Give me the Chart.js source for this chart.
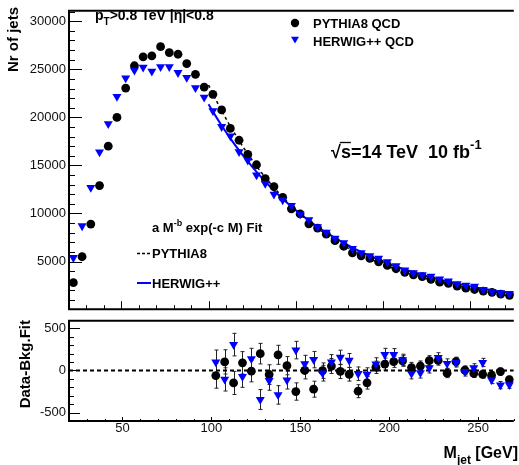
<!DOCTYPE html>
<html>
<head>
<meta charset="utf-8">
<script src="https://cdn.jsdelivr.net/npm/chart.js@4.4.1/dist/chart.umd.min.js"></script>
<style>
  html, body { margin: 0; padding: 0; background: #fff; }
  #wrap { position: relative; width: 519px; height: 465px; overflow: hidden; }
  #top { position: absolute; left: 0; top: 0; }
  #bot { position: absolute; left: 0; top: 310px; }
</style>
</head>
<body>
<div id="wrap">
  <canvas id="top" width="519" height="320"></canvas>
  <canvas id="bot" width="519" height="155"></canvas>
</div>
<script>
const FONT = '"Liberation Sans", Arial, Helvetica, sans-serif';
Chart.defaults.font.family = FONT;
Chart.defaults.font.size = 13;
Chart.defaults.color = '#111';

// jet mass bin centres (GeV)
const massBins = [22.5, 27.5, 32.5, 37.5, 42.5, 47.5, 52.5, 57.5, 62.5, 67.5,
  72.5, 77.5, 82.5, 87.5, 92.5, 97.5, 102.5, 107.5, 112.5, 117.5,
  122.5, 127.5, 132.5, 137.5, 142.5, 147.5, 152.5, 157.5, 162.5, 167.5,
  172.5, 177.5, 182.5, 187.5, 192.5, 197.5, 202.5, 207.5, 212.5, 217.5,
  222.5, 227.5, 232.5, 237.5, 242.5, 247.5, 252.5, 257.5, 262.5, 267.5, 272.5];

const pythiaCounts = [2800, 5500, 8900, 12900, 17000, 20000, 23050, 25370, 26300, 26400,
  27360, 26740, 26570, 25600, 24480, 23150, 22400, 20780, 18850, 17620,
  16150, 15070, 13620, 12800, 11680, 10480, 9950, 8920, 8480, 7850,
  7170, 6590, 5900, 5600, 5320, 4970, 4600, 4250, 3880, 3620,
  3430, 3150, 2850, 2720, 2450, 2230, 2090, 1930, 1800, 1600, 1480];

const herwigCounts = [5400, 8700, 12700, 16400, 19330, 22160, 24080, 24900, 25200, 24800,
  25270, 25270, 24650, 24150, 23080, 22090, 20680, 19030, 18060, 16420,
  15530, 14000, 13120, 11990, 11400, 10830, 9930, 9340, 8600, 8040,
  7420, 6940, 6350, 5900, 5600, 5340, 4960, 4560, 4100, 3830,
  3610, 3460, 3180, 2960, 2670, 2530, 2430, 2080, 1880, 1730, 1660];

// a M^-b exp(-c M) fit curves
const fitMass = [100, 102.5, 107.5, 112.5, 117.5, 122.5, 127.5, 132.5, 137.5, 142.5,
  147.5, 152.5, 157.5, 162.5, 167.5, 172.5, 177.5, 182.5, 187.5, 192.5,
  197.5, 202.5, 207.5, 212.5, 217.5, 222.5, 227.5, 232.5, 237.5, 242.5,
  247.5, 252.5, 257.5, 262.5, 267.5, 272.5, 275];
const pythiaFit = [23370, 22450, 20690, 19070, 17580, 16200, 14930, 13760, 12690, 11700,
  10790, 9950, 9180, 8470, 7810, 7200, 6650, 6150, 5690, 5270,
  4880, 4520, 4190, 3880, 3600, 3340, 3100, 2880, 2670, 2480,
  2300, 2140, 1990, 1850, 1720, 1600, 1545];
const herwigFit = [21360, 20600, 19160, 17820, 16570, 15410, 14330, 13330, 12400, 11530,
  10720, 9970, 9270, 8620, 8020, 7460, 6940, 6450, 6000, 5580,
  5190, 4830, 4490, 4170, 3880, 3610, 3360, 3120, 2900, 2700,
  2510, 2340, 2170, 2020, 1880, 1750, 1690];

// residuals (data - fit) in the fit window
const residMass = [102.5, 107.5, 112.5, 117.5, 122.5, 127.5, 132.5, 137.5, 142.5, 147.5,
  152.5, 157.5, 162.5, 167.5, 172.5, 177.5, 182.5, 187.5, 192.5, 197.5,
  202.5, 207.5, 212.5, 217.5, 222.5, 227.5, 232.5, 237.5, 242.5, 247.5,
  252.5, 257.5, 262.5, 267.5];
const pythiaResid = [-60, 102, -148, 91, -8, 200, -49, 186, 57, -250,
  0, -222, -2, 53, -11, -45, -246, -146, 38, 76,
  105, 115, 34, 53, 117, 119, -32, 106, 4, -36,
  -45, -57, -13, -108];
const pythiaErr = [150, 144, 137, 133, 127, 122, 117, 113, 108, 103,
  100, 95, 92, 89, 85, 81, 77, 75, 73, 71,
  68, 65, 62, 60, 59, 56, 53, 52, 50, 47,
  46, 44, 42, 40];
const herwigResid = [99, -106, 307, -72, 138, -345, -120, -290, -113, 242,
  80, 129, -32, 99, 155, 119, -38, -45, 76, 190,
  190, 125, -36, -28, 30, 152, 82, 95, -14, 30,
  95, -110, -174, -170];
const herwigErr = [144, 138, 134, 128, 125, 118, 115, 110, 107, 104,
  100, 97, 93, 90, 86, 83, 80, 77, 75, 73,
  70, 68, 64, 62, 60, 59, 56, 54, 52, 50,
  49, 46, 43, 42];

const xTicks = [50, 100, 150, 200, 250];
const yTopTicks = [5000, 10000, 15000, 20000, 25000, 30000];
const yBotTicks = [-500, 0, 500];
const xRangeTop = [20, 275];
const xRangeBot = [20, 270];
const zeroLevel = 0;

const pts = (xs, ys) => xs.map((x, i) => ({ x, y: ys[i] }));
const plain = v => String(v);

function rich(ctx, x, y, size, parts, measureOnly) {
  let cx = x;
  for (const [t, mode] of parts) {
    const s = mode ? Math.round(size * 0.72) : size;
    ctx.font = `bold ${s}px ${FONT}`;
    const dy = mode === 'sub' ? size * 0.38 : mode === 'sup' ? -size * 0.5 : 0;
    if (!measureOnly) ctx.fillText(t, cx, y + dy);
    cx += ctx.measureText(t).width;
  }
  return cx - x;
}

function triDown(ctx, x, y, r) {
  ctx.beginPath();
  ctx.moveTo(x, y + r);
  ctx.lineTo(x - r * 0.866, y - r / 2);
  ctx.lineTo(x + r * 0.866, y - r / 2);
  ctx.closePath();
  ctx.fill();
}

// ROOT-like frame with inward ticks
const rootFrame = {
  id: 'rootFrame',
  afterDatasetsDraw(chart, args, o) {
    const { ctx, chartArea: a } = chart;
    const xs = chart.scales.x, ys = chart.scales.y;
    ctx.save();
    ctx.strokeStyle = '#000';
    ctx.lineWidth = 1;
    ctx.beginPath();
    for (let v = Math.ceil(xs.min / o.xMinor) * o.xMinor; v <= xs.max; v += o.xMinor) {
      const px = Math.round(xs.getPixelForValue(v)) + 0.5;
      const len = v % o.xMajor === 0 ? o.xMajorLen : o.xMinorLen;
      ctx.moveTo(px, a.bottom);
      ctx.lineTo(px, a.bottom - len);
    }
    for (let v = Math.ceil(ys.min / o.yMinor) * o.yMinor; v <= ys.max; v += o.yMinor) {
      const py = Math.round(ys.getPixelForValue(v)) + 0.5;
      const len = v % o.yMajor === 0 ? o.yMajorLen : o.yMinorLen;
      ctx.moveTo(a.left, py);
      ctx.lineTo(a.left + len, py);
    }
    ctx.stroke();
    ctx.lineWidth = 2;
    ctx.beginPath();
    ctx.moveTo(a.left, a.top);
    ctx.lineTo(a.left, a.bottom);
    ctx.moveTo(a.left - 1, a.top);
    ctx.lineTo(a.right, a.top);
    ctx.moveTo(a.left - 1, a.bottom);
    ctx.lineTo(a.right, a.bottom);
    ctx.stroke();
    ctx.restore();
  }
};

const errorBars = {
  id: 'errorBars',
  beforeDatasetsDraw(chart) {
    const ctx = chart.ctx;
    const xs = chart.scales.x, ys = chart.scales.y;
    ctx.save();
    ctx.strokeStyle = '#222';
    ctx.lineWidth = 1;
    chart.data.datasets.forEach(ds => {
      if (!ds.errors) return;
      ctx.beginPath();
      ds.data.forEach((p, i) => {
        const px = Math.round(xs.getPixelForValue(p.x)) + 0.5;
        const y1 = ys.getPixelForValue(p.y - ds.errors[i]);
        const y2 = ys.getPixelForValue(p.y + ds.errors[i]);
        ctx.moveTo(px, y1); ctx.lineTo(px, y2);
        ctx.moveTo(px - 2, y1); ctx.lineTo(px + 2, y1);
        ctx.moveTo(px - 2, y2); ctx.lineTo(px + 2, y2);
      });
      ctx.stroke();
    });
    ctx.restore();
  }
};

const topLabels = {
  id: 'topLabels',
  afterDraw(chart) {
    const ctx = chart.ctx;
    ctx.save();
    ctx.fillStyle = '#000';
    ctx.textBaseline = 'alphabetic';
    ctx.textAlign = 'left';
    rich(ctx, 95, 20, 14, [['p'], ['T', 'sub'], ['>0.8 TeV |\u03b7|<0.8']]);

    // marker legend
    ctx.beginPath();
    ctx.arc(295, 23, 4.2, 0, Math.PI * 2);
    ctx.fill();
    ctx.font = `bold 13px ${FONT}`;
    ctx.fillText('PYTHIA8 QCD', 313, 28);
    ctx.fillStyle = '#0000ff';
    triDown(ctx, 295, 39, 4.6);
    ctx.fillStyle = '#000';
    ctx.fillText('HERWIG++ QCD', 313, 46);

    // sqrt(s) label
    ctx.font = `bold 18px ${FONT}`;
    const rootW = ctx.measureText('\u221a').width;
    ctx.fillText('\u221a', 331, 158);
    const sW = ctx.measureText('s').width;
    ctx.lineWidth = 1.3;
    ctx.strokeStyle = '#000';
    ctx.beginPath();
    ctx.moveTo(331 + rootW - 1, 142.5);
    ctx.lineTo(331 + rootW + sW, 142.5);
    ctx.stroke();
    rich(ctx, 331 + rootW, 158, 18, [['s=14 TeV  10 fb'], ['-1', 'sup']]);

    // fit legend
    rich(ctx, 152, 232, 13, [['a M'], ['-b', 'sup'], [' exp(-c M) Fit']]);
    ctx.lineWidth = 1.5;
    ctx.setLineDash([3, 2]);
    ctx.beginPath();
    ctx.moveTo(137, 253.5); ctx.lineTo(151, 253.5);
    ctx.stroke();
    ctx.setLineDash([]);
    ctx.strokeStyle = '#0000ff';
    ctx.lineWidth = 2;
    ctx.beginPath();
    ctx.moveTo(137, 283); ctx.lineTo(151, 283);
    ctx.stroke();
    ctx.font = `bold 13px ${FONT}`;
    ctx.fillText('PYTHIA8', 152, 258);
    ctx.fillText('HERWIG++', 152, 288);

    // y title
    ctx.translate(18, 7);
    ctx.rotate(-Math.PI / 2);
    ctx.textAlign = 'right';
    ctx.font = `bold 15px ${FONT}`;
    ctx.fillText('Nr of jets', 0, 0);
    ctx.restore();
  }
};

const botLabels = {
  id: 'botLabels',
  afterDraw(chart) {
    const ctx = chart.ctx;
    ctx.save();
    ctx.fillStyle = '#000';
    ctx.textBaseline = 'alphabetic';
    ctx.textAlign = 'left';
    const parts = [['M'], ['jet', 'sub'], [' [GeV]']];
    const w = rich(ctx, 0, 0, 16, parts, true);
    rich(ctx, 518 - w, 148, 16, parts);

    ctx.translate(29.5, 10);
    ctx.rotate(-Math.PI / 2);
    ctx.textAlign = 'right';
    ctx.font = `bold 15px ${FONT}`;
    ctx.fillText('Data-Bkg.Fit', 0, 0);
    ctx.restore();
  }
};

const hiddenGrid = { display: false, drawTicks: false };

new Chart(document.getElementById('top'), {
  type: 'scatter',
  data: {
    datasets: [
      { label: 'PYTHIA8 QCD', data: pts(massBins, pythiaCounts), pointStyle: 'circle',
        pointRadius: 4.4, backgroundColor: '#000', borderWidth: 0, order: 2 },
      { label: 'HERWIG++ QCD', data: pts(massBins, herwigCounts), pointStyle: 'triangle',
        rotation: 180, pointRadius: 5.2, backgroundColor: '#0000ff', borderWidth: 0, order: 1 },
      { label: 'PYTHIA8 fit', data: pts(fitMass, pythiaFit), showLine: true, pointRadius: 0,
        borderColor: '#000', borderWidth: 1.5, borderDash: [3, 3], cubicInterpolationMode: 'monotone', order: 3 },
      { label: 'HERWIG++ fit', data: pts(fitMass, herwigFit), showLine: true, pointRadius: 0,
        borderColor: '#0000ff', borderWidth: 2, cubicInterpolationMode: 'monotone', order: 4 }
    ]
  },
  options: {
    responsive: false,
    animation: false,
    events: [],
    layout: { padding: { top: 3, bottom: 4, left: 0, right: 0 } },
    plugins: {
      legend: { display: false },
      tooltip: { enabled: false },
      rootFrame: { xMajor: 50, xMinor: 10, xMajorLen: 8, xMinorLen: 4,
                   yMajor: 5000, yMinor: 1000, yMajorLen: 13, yMinorLen: 6 }
    },
    scales: {
      x: { type: 'linear', min: xRangeTop[0], max: xRangeTop[1], grid: hiddenGrid,
           border: { display: false }, ticks: { display: false },
           afterFit(s) { s.height = 0; } },
      y: { type: 'linear', min: 40, max: 31090, grid: hiddenGrid, border: { display: false },
           ticks: { padding: 3, callback: plain },
           afterBuildTicks(s) { s.ticks = yTopTicks.map(v => ({ value: v })); },
           afterFit(s) { s.width = 69; } }
    }
  },
  plugins: [rootFrame, topLabels]
});

new Chart(document.getElementById('bot'), {
  type: 'scatter',
  data: {
    datasets: [
      { label: 'PYTHIA8', data: pts(residMass, pythiaResid), errors: pythiaErr, pointStyle: 'circle',
        pointRadius: 4.4, backgroundColor: '#000', borderWidth: 0, order: 2 },
      { label: 'HERWIG++', data: pts(residMass, herwigResid), errors: herwigErr, pointStyle: 'triangle',
        rotation: 180, pointRadius: 5.2, backgroundColor: '#0000ff', borderWidth: 0, order: 1 },
      { label: 'zero', data: xRangeBot.map(x => ({ x, y: zeroLevel })), showLine: true, pointRadius: 0,
        borderColor: '#000', borderWidth: 2, borderDash: [4, 3], order: 3 }
    ]
  },
  options: {
    responsive: false,
    animation: false,
    events: [],
    layout: { padding: { top: 6, bottom: 0, left: 0, right: 0 } },
    plugins: {
      legend: { display: false },
      tooltip: { enabled: false },
      rootFrame: { xMajor: 50, xMinor: 10, xMajorLen: 4, xMinorLen: 2,
                   yMajor: 500, yMinor: 100, yMajorLen: 11, yMinorLen: 5 }
    },
    scales: {
      x: { type: 'linear', min: xRangeBot[0], max: xRangeBot[1], grid: hiddenGrid,
           border: { display: false }, ticks: { padding: 0, callback: plain },
           afterBuildTicks(s) { s.ticks = xTicks.map(v => ({ value: v })); },
           afterFit(s) { s.height = 44; } },
      y: { type: 'linear', min: -600, max: 590, grid: hiddenGrid, border: { display: false },
           ticks: { padding: 3, callback: plain },
           afterBuildTicks(s) { s.ticks = yBotTicks.map(v => ({ value: v })); },
           afterFit(s) { s.width = 69; } }
    }
  },
  plugins: [errorBars, rootFrame, botLabels]
});
</script>
</body>
</html>
